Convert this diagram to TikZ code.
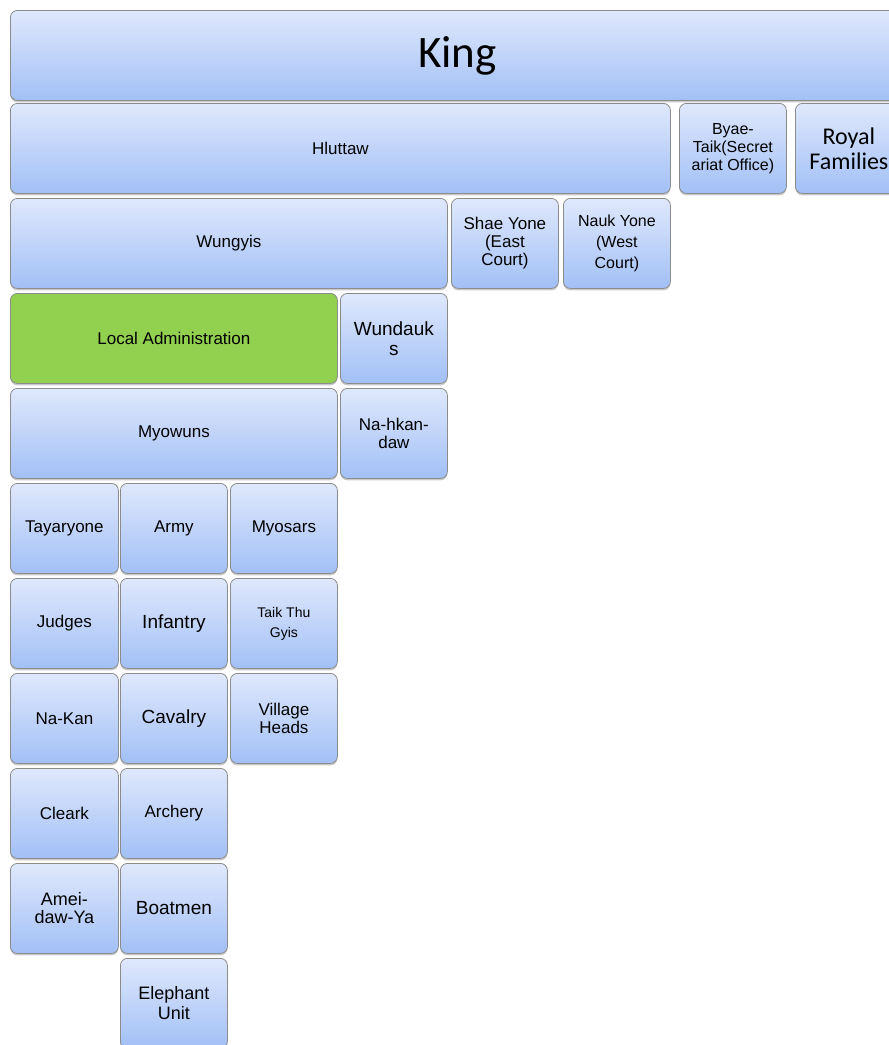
\documentclass[tikz,border=0pt]{standalone}
\usepackage{fontspec}
\setmainfont{Liberation Sans}
\newfontfamily\calib{Carlito}
\usetikzlibrary{shadows}

\definecolor{celltop}{RGB}{223,232,252}
\definecolor{cellmid}{RGB}{204,219,250}
\definecolor{cellbot}{RGB}{162,192,246}
\definecolor{cellline}{RGB}{140,140,140}
\definecolor{localgreen}{RGB}{146,208,80}

\tikzset{
  cell/.style={rectangle, rounded corners=7pt, draw=cellline, line width=0.8pt,
    top color=celltop, middle color=cellmid, bottom color=cellbot,
    anchor=north west, align=center, inner sep=1pt, minimum height=90pt,
    minimum width=107pt, font=\fontsize{17}{19}\selectfont,
    drop shadow={shadow xshift=0pt, shadow yshift=-2pt, opacity=0.3, fill=black!70}},
  greencell/.style={cell, fill=localgreen, top color=localgreen, bottom color=localgreen, middle color=localgreen},
  big/.style={font=\fontsize{19}{20}\selectfont},
  tight/.style={font=\fontsize{16}{18}\selectfont}
}

\begin{document}
\begin{tikzpicture}[x=1pt, y=-1pt]
  \useasboundingbox (0,0) rectangle (889,1045);
  \clip (0,0) rectangle (889,1045);

  % top rows
  \node[cell, minimum width=894pt, font=\calib\fontsize{45}{46}\selectfont] (king) at (10,10) {King};
  \node[cell, minimum width=660pt] (hluttaw) at (10,103) {Hluttaw};
  \node[cell, tight] (byaetaik) at (679,103) {Byae-\\Taik(Secret\\ariat Office)};
  \node[cell, font=\calib\fontsize{24}{25}\selectfont] (royal) at (795,103) {Royal\\Families};

  \node[cell, minimum width=437pt] (wungyis) at (10,198) {Wungyis};
  \node[cell, font=\fontsize{17}{18}\selectfont] (shaeyone) at (451,198) {Shae Yone\\(East\\Court)};
  \node[cell, font=\fontsize{16}{21}\selectfont] (naukyone) at (563,198) {Nauk Yone\\(West\\Court)};

  \node[greencell, minimum width=327pt] (localadm) at (10,293) {Local Administration};
  \node[cell, big] (wundauks) at (340,293) {Wundauk\\s};
  \node[cell, minimum width=327pt] (myowuns) at (10,388) {Myowuns};
  \node[cell, font=\fontsize{17}{18}\selectfont] (nahkandaw) at (340,388) {Na-hkan-\\daw};

  % grid of offices
  \node[cell, minimum width=108pt] (tayaryone) at (10,483) {Tayaryone};
  \node[cell] (army) at (120,483) {Army};
  \node[cell] (myosars) at (230,483) {Myosars};

  \node[cell, minimum width=108pt] (judges) at (10,578) {Judges};
  \node[cell, big] (infantry) at (120,578) {Infantry};
  \node[cell, font=\fontsize{14}{20}\selectfont] (taikthu) at (230,578) {Taik Thu\\Gyis};

  \node[cell, minimum width=108pt] (nakan) at (10,673) {Na-Kan};
  \node[cell, big] (cavalry) at (120,673) {Cavalry};
  \node[cell, font=\fontsize{17}{18}\selectfont] (village) at (230,673) {Village\\Heads};

  \node[cell, minimum width=108pt] (cleark) at (10,768) {Cleark};
  \node[cell] (archery) at (120,768) {Archery};

  \node[cell, minimum width=108pt, font=\fontsize{18}{18}\selectfont] (ameidaw) at (10,863) {Amei-\\daw-Ya};
  \node[cell, big] (boatmen) at (120,863) {Boatmen};

  \node[cell, font=\fontsize{18}{20}\selectfont] (elephant) at (120,958) {Elephant\\Unit};
\end{tikzpicture}
\end{document}
